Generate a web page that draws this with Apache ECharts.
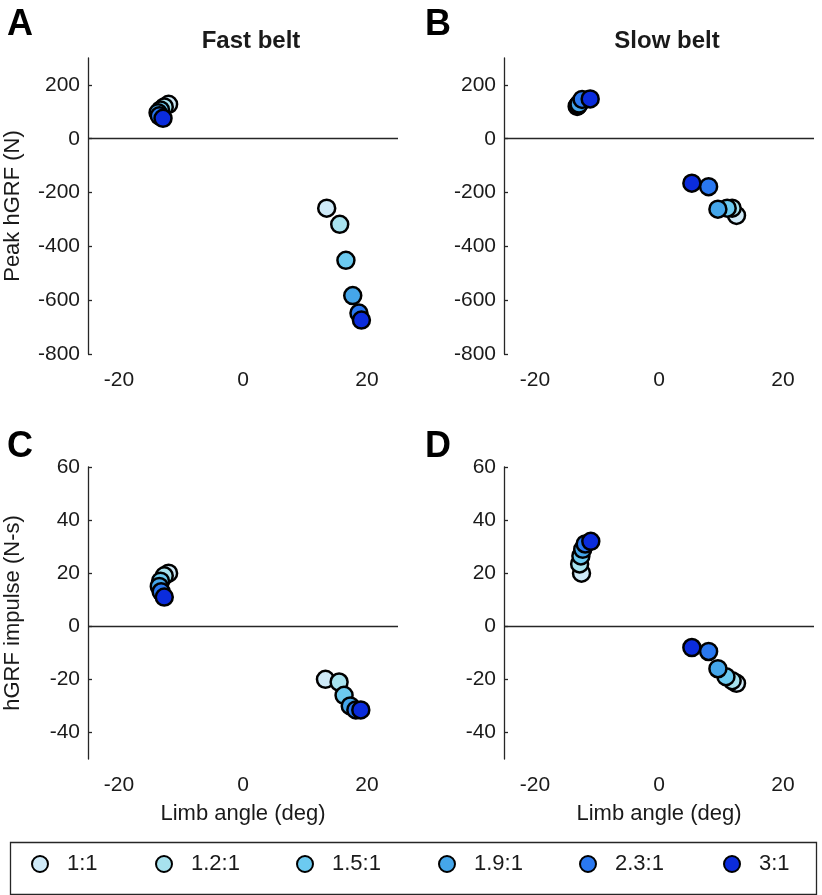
<!DOCTYPE html>
<html><head><meta charset="utf-8">
<script src="https://cdn.jsdelivr.net/npm/echarts@6/dist/echarts.min.js"></script>
<style>html,body{margin:0;padding:0;background:#fff}#c{width:822px;height:895px}</style>
</head><body><div id="c"></div>
<script>
const ratios = ['1:1', '1.2:1', '1.5:1', '1.9:1', '2.3:1', '3:1'];
const colors = ['#cfeaf8', '#a7e2ee', '#6ccaf0', '#45a6ea', '#2a78f0', '#0b2cdc'];

// Panel A: Fast belt, peak hGRF (N)
const fastPeakAngleNeg = [-12.0, -12.7, -13.3, -13.7, -13.5, -12.9];
const fastPeakNeg      = [128, 118, 107, 97, 85, 76];
const fastPeakAnglePos = [13.5, 15.6, 16.6, 17.7, 18.7, 19.1];
const fastPeakPos      = [-258, -318, -452, -583, -648, -674];

// Panel B: Slow belt, peak hGRF (N)
const slowPeakAngleNeg = [-13.2, -13.1, -13.0, -12.9, -12.4, -11.1];
const slowPeakNeg      = [120, 123, 126, 129, 146, 148];
const slowPeakAnglePos = [12.5, 11.8, 11.0, 9.5, 8.0, 5.3];
const slowPeakPos      = [-285, -258, -258, -262, -178, -165];

// Panel C: Fast belt, hGRF impulse (N-s)
const fastImpAngleNeg = [-12.0, -12.7, -13.3, -13.5, -13.2, -12.7];
const fastImpNeg      = [20, 19, 17, 15, 13, 11];
const fastImpAnglePos = [13.3, 15.5, 16.3, 17.3, 18.2, 19.0];
const fastImpPos      = [-20, -21, -26, -30, -31.5, -31.5];

// Panel D: Slow belt, hGRF impulse (N-s)
const slowImpAngleNeg = [-12.5, -12.8, -12.6, -12.3, -11.9, -11.0];
const slowImpNeg      = [20, 23.5, 26.5, 29, 31, 32];
const slowImpAnglePos = [12.5, 11.8, 10.8, 9.5, 8.0, 5.3];
const slowImpPos      = [-21.5, -20.5, -19, -16, -9.5, -8];

const xTicks = [-20, 0, 20];
const peakTicks = [-800, -600, -400, -200, 0, 200];
const impTicks = [-40, -20, 0, 20, 40, 60];

const FONT = '"Liberation Sans", Arial, sans-serif';
const TXT = '#1a1a1a';
const AX = '#262626';

const grids = [
  {left: 88, top: 58, width: 310, height: 296},
  {left: 504, top: 58, width: 310, height: 296},
  {left: 88, top: 467, width: 310, height: 292},
  {left: 504, top: 467, width: 310, height: 292}
];

function xAxisDef(i, showName) {
  return {
    type: 'value', gridIndex: i, min: -25, max: 25,
    axisLine: {show: false, onZero: false}, axisTick: {show: false}, splitLine: {show: false},
    axisLabel: {customValues: xTicks, fontSize: 21, color: TXT, fontFamily: FONT, margin: 16},
    name: showName ? 'Limb angle (deg)' : '', nameLocation: 'middle', nameGap: 44,
    nameTextStyle: {fontSize: 22, color: TXT, fontFamily: FONT}
  };
}
function yAxisDef(i, min, max, ticks, name) {
  return {
    type: 'value', gridIndex: i, min: min, max: max,
    axisLine: {show: true, onZero: false, lineStyle: {color: AX, width: 1.3}},
    axisTick: {show: true, inside: true, length: 4, customValues: ticks, lineStyle: {color: AX, width: 1.3}},
    splitLine: {show: false},
    axisLabel: {customValues: ticks, fontSize: 21, color: TXT, fontFamily: FONT, margin: 8},
    name: name, nameLocation: 'middle', nameGap: 64,
    nameTextStyle: {fontSize: 22, color: TXT, fontFamily: FONT}
  };
}

const panels = [
  [fastPeakAngleNeg, fastPeakNeg, fastPeakAnglePos, fastPeakPos],
  [slowPeakAngleNeg, slowPeakNeg, slowPeakAnglePos, slowPeakPos],
  [fastImpAngleNeg, fastImpNeg, fastImpAnglePos, fastImpPos],
  [slowImpAngleNeg, slowImpNeg, slowImpAnglePos, slowImpPos]
];

const series = [];
panels.forEach((p, gi) => {
  ratios.forEach((r, k) => {
    const s = {
      type: 'scatter', name: r, xAxisIndex: gi, yAxisIndex: gi,
      symbol: 'circle', symbolSize: 17,
      itemStyle: {color: colors[k], borderColor: '#000', borderWidth: 2.5, opacity: 1},
      emphasis: {disabled: true},
      data: [[p[0][k], p[1][k]], [p[2][k], p[3][k]]]
    };
    if (k === 0) {
      s.markLine = {
        silent: true, symbol: 'none', animation: false,
        label: {show: false},
        lineStyle: {color: AX, width: 1.3, type: 'solid'},
        data: [{yAxis: 0}]
      };
    }
    series.push(s);
  });
});

const legendLefts = [31, 155, 296, 438, 579, 723];
const legends = ratios.map((r, k) => ({
  data: [r], left: legendLefts[k], top: 853, icon: 'circle',
  itemWidth: 16, itemHeight: 16, selectedMode: false, padding: 0,
  textStyle: {fontSize: 22, color: TXT, fontFamily: FONT, padding: [0, 0, 0, 14]}
}));

const option = {
  animation: false,
  backgroundColor: '#fff',
  grid: grids,
  xAxis: [xAxisDef(0, false), xAxisDef(1, false), xAxisDef(2, true), xAxisDef(3, true)],
  yAxis: [
    yAxisDef(0, -800, 300, peakTicks, 'Peak hGRF (N)'),
    yAxisDef(1, -800, 300, peakTicks, ''),
    yAxisDef(2, -50, 60, impTicks, 'hGRF impulse (N-s)'),
    yAxisDef(3, -50, 60, impTicks, '')
  ],
  legend: legends,
  title: [
    {text: 'Fast belt', left: 246, top: 24, textAlign: 'center', textStyle: {fontSize: 24, fontWeight: 'bold', color: TXT, fontFamily: FONT}},
    {text: 'Slow belt', left: 662, top: 24, textAlign: 'center', textStyle: {fontSize: 24, fontWeight: 'bold', color: TXT, fontFamily: FONT}},
    {text: 'A', left: 2, top: 2, textStyle: {fontSize: 36, fontWeight: 'bold', color: '#000', fontFamily: FONT}},
    {text: 'B', left: 420, top: 2, textStyle: {fontSize: 36, fontWeight: 'bold', color: '#000', fontFamily: FONT}},
    {text: 'C', left: 2, top: 424, textStyle: {fontSize: 36, fontWeight: 'bold', color: '#000', fontFamily: FONT}},
    {text: 'D', left: 420, top: 424, textStyle: {fontSize: 36, fontWeight: 'bold', color: '#000', fontFamily: FONT}}
  ],
  graphic: [{
    type: 'rect', left: 8, top: 840, silent: true,
    shape: {width: 806, height: 52},
    style: {fill: 'none', stroke: AX, lineWidth: 1.3}
  }],
  series: series
};
echarts.init(document.getElementById('c'), null, {renderer: 'canvas'}).setOption(option);
</script></body></html>
